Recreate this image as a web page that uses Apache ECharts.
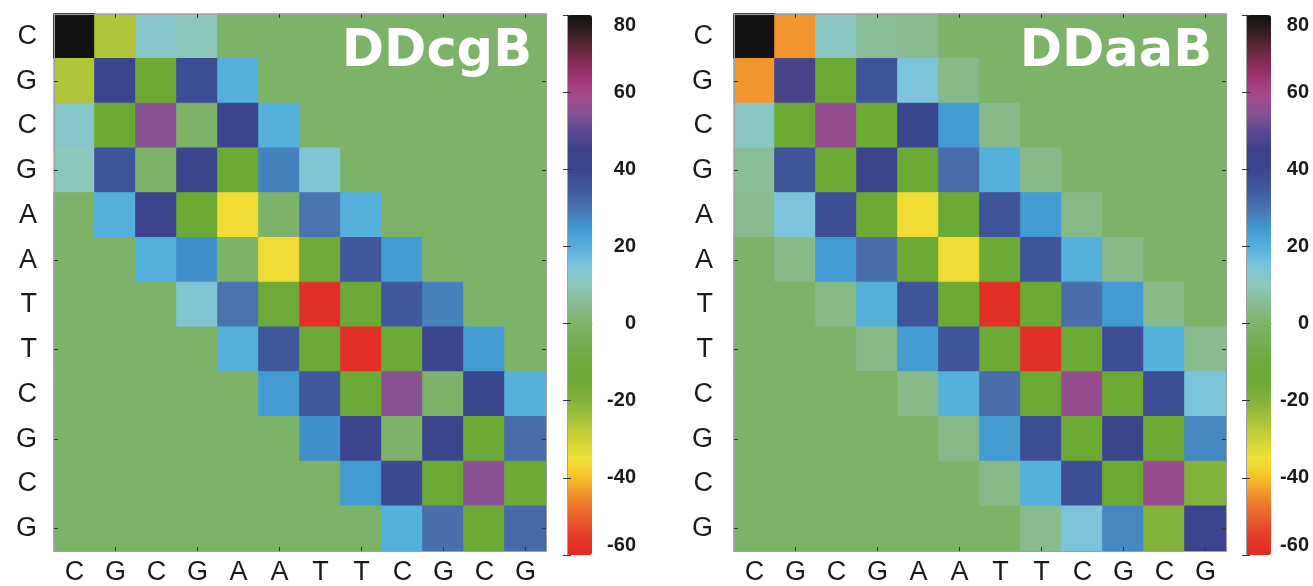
<!DOCTYPE html>
<html>
<head>
<meta charset="utf-8">
<script src="https://cdn.jsdelivr.net/npm/echarts@6/dist/echarts.min.js"></script>
<style>
html,body{margin:0;padding:0;background:#fff;}
#chart{width:1313px;height:586px;}
</style>
</head>
<body>
<div id="chart"></div>
<script>
// Sequence (row / column labels)
var sequence = ['C','G','C','G','A','A','T','T','C','G','C','G'];
// Colorbar tick values
var colorbarTicks = [-60, -40, -20, 0, 20, 40, 60, 80];
var colorMin = -60, colorMax = 80;
// Panel titles
var titles = ['DDcgB', 'DDaaB'];

// DDcgB matrix (rows top->bottom, columns left->right)
var ddcgB = [
  [80, -26, 12, 10, 0, 0, 0, 0, 0, 0, 0, 0],
  [-26, 41, -15, 38, 20, 0, 0, 0, 0, 0, 0, 0],
  [12, -15, 55, 0, 41, 20, 0, 0, 0, 0, 0, 0],
  [10, 36, 0, 43, -15, 28, 14, 0, 0, 0, 0, 0],
  [0, 20, 41, -15, -36, 0, 30, 20, 0, 0, 0, 0],
  [0, 0, 20, 26, 0, -36, -13, 35, 24, 0, 0, 0],
  [0, 0, 0, 14, 30, -13, -58, -14, 35, 28, 0, 0],
  [0, 0, 0, 0, 20, 35, -14, -58, -14, 41, 24, 0],
  [0, 0, 0, 0, 0, 24, 35, -14, 55, 0, 40, 20],
  [0, 0, 0, 0, 0, 0, 26, 42, 0, 42, -15, 31],
  [0, 0, 0, 0, 0, 0, 0, 24, 39, -15, 55, -15],
  [0, 0, 0, 0, 0, 0, 0, 0, 20, 31, -15, 32]
];

// DDaaB matrix
var ddaaB = [
  [80, -44, 11, 6, 5, 0, 0, 0, 0, 0, 0, 0],
  [-44, 47, -15, 36, 15, 4, 0, 0, 0, 0, 0, 0],
  [11, -15, 57, -15, 40, 24, 4, 0, 0, 0, 0, 0],
  [6, 36, -15, 43, -15, 31, 20, 4, 0, 0, 0, 0],
  [5, 15, 38, -15, -36, -15, 36, 24, 4, 0, 0, 0],
  [0, 4, 24, 31, -15, -36, -15, 36, 20, 4, 0, 0],
  [0, 0, 4, 20, 36, -15, -58, -15, 31, 24, 4, 0],
  [0, 0, 0, 4, 24, 36, -15, -58, -15, 38, 20, 5],
  [0, 0, 0, 0, 4, 20, 31, -15, 57, -15, 38, 15],
  [0, 0, 0, 0, 0, 4, 24, 38, -15, 43, -15, 27],
  [0, 0, 0, 0, 0, 0, 4, 20, 38, -15, 57, -20],
  [0, 0, 0, 0, 0, 0, 0, 5, 15, 27, -20, 42]
];

// Colormap stops, evenly spaced from -60 to 80 (every 5)
var colormap = [
  '#e02826','#e43c2a','#ea602c','#f08a2c','#f7c02a','#f0e338','#cfd236','#a8c23a',
  '#82b23a','#6caa36','#6ea93e','#76ae54','#7db368','#88bc90','#8dc8bc','#7cc4da',
  '#55b0dc','#3f96d0','#4a74b0','#40589c','#3a4690','#3e4288','#5c4890','#8a5294',
  '#a8478a','#9c2e6c','#6e2a44','#3a2022','#121212'
];

function cellColor(v) {
  return echarts.color.lerp((v - colorMin) / (colorMax - colorMin), colormap);
}

function toCells(m) {
  var out = [];
  for (var r = 0; r < m.length; r++)
    for (var c = 0; c < m[r].length; c++)
      out.push({ value: [c, r, m[r][c]], itemStyle: { borderColor: cellColor(m[r][c]), borderWidth: 1 } });
  return out;
}

var idx = sequence.map(function (_, i) { return String(i); });
var labelFmt = function (v) { return sequence[+v]; };
var frameColor = '#a0a0a0';
var tickColor = '#333';
var oddTick = function (i) { return i % 2 === 1; };

var panels = [
  { left: 54, top: 14, width: 492, height: 540, ylabelMargin: 17, cbLeft: 567, cbMargin: 44, titleRight: 781 },
  { left: 734, top: 14, width: 492, height: 540, ylabelMargin: 21, cbLeft: 1246, cbMargin: 38, titleRight: 101 }
];

var grids = [], xAxes = [], yAxes = [], series = [], visualMaps = [], titleOpts = [];
var mats = [ddcgB, ddaaB];

panels.forEach(function (p, k) {
  var gi = grids.length;
  grids.push({ left: p.left, top: p.top, width: p.width, height: p.height, containLabel: false });
  var labelStyle = { fontFamily: 'Liberation Sans, Arial, sans-serif', fontSize: 27, color: '#1a1a1a' };
  xAxes.push({ gridIndex: gi, type: 'category', data: idx, position: 'bottom', z: 5,
    axisLine: { show: true, lineStyle: { color: frameColor, width: 1 } },
    axisTick: { show: true, inside: true, length: 4, alignWithLabel: true, interval: oddTick, lineStyle: { color: tickColor } },
    axisLabel: Object.assign({ interval: 0, margin: 8, formatter: labelFmt }, labelStyle),
    splitLine: { show: false } });
  xAxes.push({ gridIndex: gi, type: 'category', data: idx, position: 'top', z: 5,
    axisLine: { show: true, lineStyle: { color: frameColor, width: 1 } },
    axisTick: { show: true, inside: true, length: 4, alignWithLabel: true, interval: oddTick, lineStyle: { color: tickColor } },
    axisLabel: { show: false }, splitLine: { show: false } });
  yAxes.push({ gridIndex: gi, type: 'category', data: idx, position: 'left', inverse: true, z: 5,
    axisLine: { show: true, lineStyle: { color: frameColor, width: 1 } },
    axisTick: { show: true, inside: true, length: 4, alignWithLabel: true, interval: oddTick, lineStyle: { color: tickColor } },
    axisLabel: Object.assign({ interval: 0, margin: p.ylabelMargin, formatter: labelFmt }, labelStyle),
    splitLine: { show: false } });
  yAxes.push({ gridIndex: gi, type: 'category', data: idx, position: 'right', inverse: true, z: 5,
    axisLine: { show: true, lineStyle: { color: frameColor, width: 1 } },
    axisTick: { show: true, inside: true, length: 4, alignWithLabel: true, interval: oddTick, lineStyle: { color: tickColor } },
    axisLabel: { show: false }, splitLine: { show: false } });
  var si = series.length;
  series.push({ type: 'heatmap', xAxisIndex: xAxes.length - 2, yAxisIndex: yAxes.length - 2,
    data: toCells(mats[k]), emphasis: { disabled: true }, progressive: 0, silent: true });

  visualMaps.push({ type: 'continuous', seriesIndex: si, dimension: 2, min: colorMin, max: colorMax,
    orient: 'vertical', left: p.cbLeft, top: 15, itemWidth: 25, itemHeight: 540, padding: 0,
    calculable: false, hoverLink: false, text: null, inRange: { color: colormap } });

  // colorbar frame + ticks
  var cg = grids.length;
  grids.push({ left: p.cbLeft, top: 15, width: 25, height: 540 });
  xAxes.push({ gridIndex: cg, type: 'value', min: 0, max: 1, position: 'bottom', z: 10,
    axisLine: { show: true, lineStyle: { color: frameColor } }, axisTick: { show: false }, axisLabel: { show: false }, splitLine: { show: false } });
  xAxes.push({ gridIndex: cg, type: 'value', min: 0, max: 1, position: 'top', z: 10,
    axisLine: { show: true, lineStyle: { color: frameColor } }, axisTick: { show: false }, axisLabel: { show: false }, splitLine: { show: false } });
  yAxes.push({ gridIndex: cg, type: 'value', min: colorMin, max: colorMax, interval: 20, position: 'left', z: 10,
    axisLine: { show: true, lineStyle: { color: frameColor } },
    axisTick: { show: true, inside: true, length: 4, lineStyle: { color: '#333' } },
    axisLabel: { show: false }, splitLine: { show: false } });
  yAxes.push({ gridIndex: cg, type: 'value', min: colorMin, max: colorMax, interval: 20, position: 'right', z: 10,
    axisLine: { show: true, lineStyle: { color: frameColor } },
    axisTick: { show: true, inside: true, length: 4, lineStyle: { color: '#333' } },
    axisLabel: { show: true, align: 'right', margin: p.cbMargin, fontFamily: 'Liberation Sans, Arial, sans-serif',
      fontWeight: 'bold', fontSize: 20, color: '#1a1a1a',
      verticalAlignMaxLabel: 'top', verticalAlignMinLabel: 'bottom',
      formatter: function (v) { return colorbarTicks.indexOf(v) >= 0 ? String(v) : ''; } },
    splitLine: { show: false } });
  series.push({ type: 'line', xAxisIndex: xAxes.length - 2, yAxisIndex: yAxes.length - 2, data: [], silent: true });

  titleOpts.push({ text: titles[k], right: p.titleRight, top: 27, padding: 0,
    textStyle: { color: '#ffffff', fontFamily: 'DejaVu Sans', fontWeight: 'bold', fontSize: 51 } });
});

var chart = echarts.init(document.getElementById('chart'), null, { renderer: 'canvas' });
chart.setOption({
  animation: false,
  backgroundColor: '#ffffff',
  title: titleOpts,
  grid: grids,
  xAxis: xAxes,
  yAxis: yAxes,
  visualMap: visualMaps,
  series: series
});
</script>
</body>
</html>
